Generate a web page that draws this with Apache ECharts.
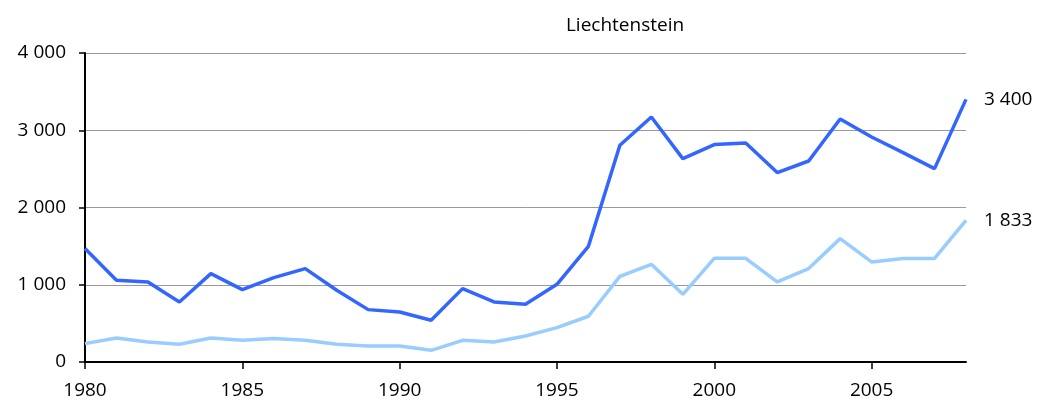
<!DOCTYPE html>
<html>
<head>
<meta charset="utf-8">
<script src="https://cdn.jsdelivr.net/npm/echarts@6/dist/echarts.min.js"></script>
<style>
  html, body { margin: 0; padding: 0; background: #fff; }
  #chart { width: 1042px; height: 406px; }
</style>
</head>
<body>
<div id="chart"></div>
<script>
// years and the two series
const years = [1980,1981,1982,1983,1984,1985,1986,1987,1988,1989,1990,1991,1992,1993,1994,
  1995,1996,1997,1998,1999,2000,2001,2002,2003,2004,2005,2006,2007,2008];
const darkSeries = [1470,1058,1036,777,1144,937,1093,1209,928,678,647,540,950,777,747,
  1006,1498,2805,3172,2633,2814,2835,2452,2602,3146,2913,2711,2503,3400];
const lightSeries = [238,311,259,229,311,281,305,281,229,207,207,151,281,259,337,
  445,592,1109,1265,876,1342,1342,1036,1209,1597,1295,1340,1340,1833];
const yTicks = [0, 1000, 2000, 3000, 4000];

// 3400 -> "3 400"
function fmt(v) {
  return String(Math.round(v)).replace(/\B(?=(\d{3})+(?!\d))/g, ' ');
}

const font = '"Open Sans", sans-serif';
let chart = echarts.init(document.getElementById('chart'));

let option = {
  animation: false,
  title: {
    text: 'Liechtenstein',
    left: 620, top: 11, textAlign: 'center',
    textStyle: { fontFamily: font, fontSize: 19, fontWeight: 'normal', color: '#000' }
  },
  grid: { left: 85, right: 76, top: 53, bottom: 44 },
  xAxis: {
    type: 'value', min: 1980, max: 2008, interval: 5,
    axisLine: { lineStyle: { color: '#000', width: 2 } },
    axisTick: { show: true, length: 7, lineStyle: { color: '#000', width: 1.5 } },
    axisLabel: {
      showMaxLabel: false, margin: 19, fontFamily: font, fontSize: 19, color: '#000',
      formatter: v => String(v)
    },
    splitLine: { show: false }
  },
  yAxis: {
    type: 'value', min: yTicks[0], max: yTicks[yTicks.length - 1], interval: 1000,
    axisLine: { show: true, lineStyle: { color: '#000', width: 2 } },
    axisTick: { show: true, length: 6, lineStyle: { color: '#000', width: 1.5 } },
    axisLabel: { margin: 19, fontFamily: font, fontSize: 19, color: '#000', formatter: fmt },
    splitLine: { lineStyle: { color: '#999', width: 1 } }
  },
  series: [
    {
      type: 'line', symbol: 'none',
      data: years.map((y, i) => [y, darkSeries[i]]),
      lineStyle: { color: '#3366ff', width: 3.5 },
      itemStyle: { color: '#3366ff' },
      endLabel: {
        show: true, distance: 18, fontFamily: font, fontSize: 19, color: '#000',
        formatter: p => fmt(p.value[1])
      }
    },
    {
      type: 'line', symbol: 'none',
      data: years.map((y, i) => [y, lightSeries[i]]),
      lineStyle: { color: '#99ccff', width: 3.5 },
      itemStyle: { color: '#99ccff' },
      endLabel: {
        show: true, distance: 18, fontFamily: font, fontSize: 19, color: '#000',
        formatter: p => fmt(p.value[1])
      }
    }
  ]
};

chart.setOption(option);
</script>
</body>
</html>
